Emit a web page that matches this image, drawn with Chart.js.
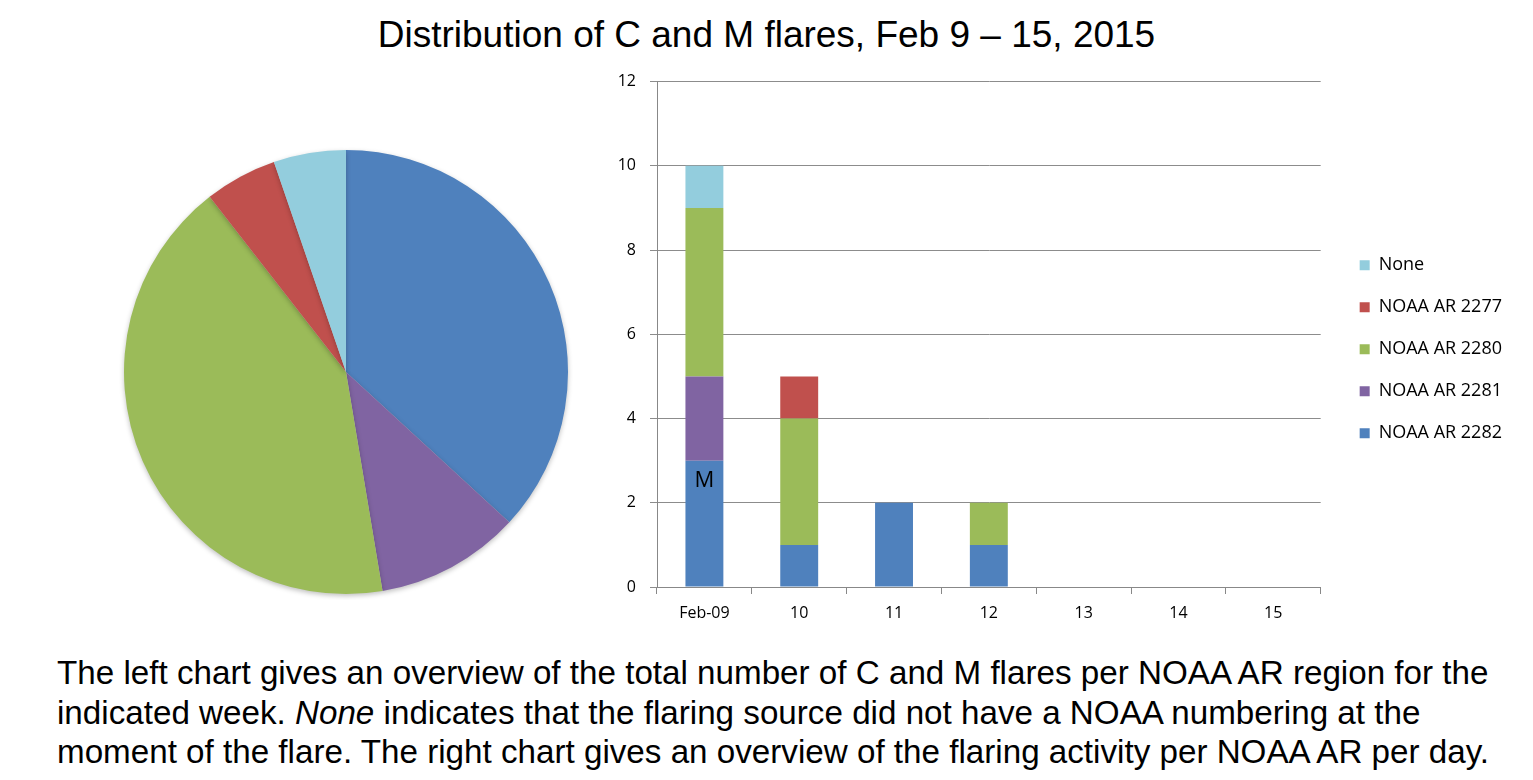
<!DOCTYPE html>
<html>
<head>
<meta charset="utf-8">
<script src="https://cdn.jsdelivr.net/npm/chart.js@4.4.1/dist/chart.umd.min.js"></script>
<style>
  body { margin: 0; background: #fff; width: 1533px; height: 780px; position: relative; overflow: hidden; }
  #title { position: absolute; left: 0; width: 1533px; top: 14px; text-align: center; font: 37px "Liberation Sans", Arial, sans-serif; color: #000; }
  #pieWrap { position: absolute; left: 118px; top: 144px; width: 456px; height: 456px; }
  #barWrap { position: absolute; left: 590px; top: 58px; width: 943px; height: 574px; }
  #caption { position: absolute; left: 57px; top: 653px; font: 33.2px "Liberation Sans", Arial, sans-serif; line-height: 39.5px; color: #000; white-space: nowrap; }
</style>
</head>
<body>
<div id="title">Distribution of C and M flares, Feb 9 – 15, 2015</div>
<div id="pieWrap"><canvas id="pieChart"></canvas></div>
<div id="barWrap"><canvas id="barChart"></canvas></div>
<div id="caption">The left chart gives an overview of the total number of C and M flares per NOAA AR region for the<br>indicated week. <i>None</i> indicates that the flaring source did not have a NOAA numbering at the<br>moment of the flare. The right chart gives an overview of the flaring activity per NOAA AR per day.</div>
<script>
const days = ["Feb-09", "10", "11", "12", "13", "14", "15"];
const yTicks = [0, 2, 4, 6, 8, 10, 12];

const ar2282 = [3, 1, 2, 1, 0, 0, 0];
const ar2281 = [2, 0, 0, 0, 0, 0, 0];
const ar2280 = [4, 3, 0, 1, 0, 0, 0];
const ar2277 = [0, 1, 0, 0, 0, 0, 0];
const noneSrc = [1, 0, 0, 0, 0, 0, 0];

const pieLabels = ["NOAA AR 2282", "NOAA AR 2281", "NOAA AR 2280", "NOAA AR 2277", "None"];
const pieValues = [7, 2, 8, 1, 1];

const colors = {
  ar2282: "#4f81bd",
  ar2281: "#8064a2",
  ar2280: "#9bbb59",
  ar2277: "#c0504d",
  none: "#93cddd",
};

const tickFont = { family: "'Open Sans', sans-serif", size: 16 };

// soft shadow under the pie, like the original
const pieShadow = {
  id: "pieShadow",
  beforeDatasetsDraw(chart) {
    const ctx = chart.ctx;
    ctx.save();
    ctx.shadowColor = "rgba(0,0,0,0.25)";
    ctx.shadowBlur = 5;
    ctx.shadowOffsetY = 2;
  },
  afterDatasetsDraw(chart) {
    chart.ctx.restore();
  },
};

new Chart(document.getElementById("pieChart"), {
  type: "pie",
  data: {
    labels: pieLabels,
    datasets: [{
      data: pieValues,
      backgroundColor: [colors.ar2282, colors.ar2281, colors.ar2280, colors.ar2277, colors.none],
      borderWidth: 0,
      hoverOffset: 0,
    }],
  },
  options: {
    responsive: true,
    maintainAspectRatio: false,
    animation: false,
    layout: { padding: 6 },
    plugins: { legend: { display: false }, tooltip: { enabled: false } },
  },
  plugins: [pieShadow],
});

// "M" marker on the Feb-09 bar
const flareMark = {
  id: "flareMark",
  afterDatasetsDraw(chart) {
    const { ctx, scales } = chart;
    ctx.save();
    ctx.font = "22px 'Open Sans', sans-serif";
    ctx.fillStyle = "#000";
    ctx.textAlign = "center";
    ctx.textBaseline = "middle";
    ctx.fillText("M", scales.x.getPixelForValue(0), scales.y.getPixelForValue(2.52));
    ctx.restore();
  },
};

new Chart(document.getElementById("barChart"), {
  type: "bar",
  data: {
    labels: days,
    datasets: [
      { label: "NOAA AR 2282", data: ar2282, backgroundColor: colors.ar2282 },
      { label: "NOAA AR 2281", data: ar2281, backgroundColor: colors.ar2281 },
      { label: "NOAA AR 2280", data: ar2280, backgroundColor: colors.ar2280 },
      { label: "NOAA AR 2277", data: ar2277, backgroundColor: colors.ar2277 },
      { label: "None", data: noneSrc, backgroundColor: colors.none },
    ],
  },
  options: {
    responsive: true,
    maintainAspectRatio: false,
    animation: false,
    layout: { padding: { top: 15, right: 21, left: 0, bottom: 0 } },
    datasets: { bar: { categoryPercentage: 0.4, barPercentage: 1.0 } },
    scales: {
      x: {
        stacked: true,
        afterFit(axis) { axis.height = 45; },
        grid: { display: true, drawOnChartArea: false, color: "#888", tickLength: 7, offset: true },
        border: { color: "#888" },
        ticks: { color: "#000", font: tickFont, padding: 10 },
      },
      y: {
        stacked: true,
        min: 0,
        max: 12,
        afterFit(axis) { axis.width = 67; },
        afterBuildTicks(axis) { axis.ticks = yTicks.map(v => ({ value: v })); },
        grid: { color: "#8c8c8c", tickLength: 7 },
        border: { color: "#888" },
        ticks: { color: "#000", font: tickFont, padding: 14 },
      },
      // hidden strip between plot and legend
      gap: {
        type: "linear",
        position: "right",
        display: false,
        afterFit(axis) { axis.width = 15; },
      },
    },
    plugins: {
      tooltip: { enabled: false },
      legend: {
        position: "right",
        fullSize: false,
        reverse: true,
        title: { display: true, text: " ", font: { size: 20, lineHeight: 1 }, padding: 5 },
        labels: {
          boxWidth: 10,
          boxHeight: 10,
          padding: 24,
          color: "#000",
          font: { family: "'Open Sans', sans-serif", size: 18 },
        },
      },
    },
  },
  plugins: [flareMark],
});
</script>
</body>
</html>
